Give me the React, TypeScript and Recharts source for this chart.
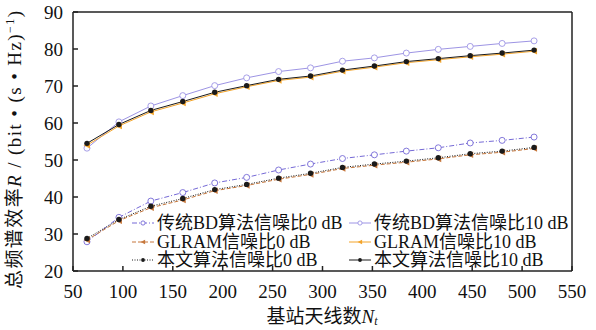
import React from "react";
import { Line, LineChart, ReferenceLine, XAxis, YAxis } from "recharts";

const antennas = [64, 96, 128, 160, 192, 224, 256, 288, 320, 352, 384, 416, 448, 480, 512];

const bd0 = [27.9, 34.5, 38.9, 41.2, 43.8, 45.3, 47.3, 48.9, 50.4, 51.4, 52.4, 53.3, 54.6, 55.3, 56.2];
const bd10 = [53.2, 60.3, 64.6, 67.4, 70.1, 72.2, 73.9, 74.9, 76.7, 77.6, 78.9, 79.9, 80.7, 81.5, 82.2];
const glram0 = [28.4, 33.6, 37.1, 39.2, 41.7, 43.1, 44.8, 46.1, 47.7, 48.6, 49.4, 50.3, 51.4, 52.1, 53.1];
const glram10 = [54.0, 59.2, 63.0, 65.4, 67.9, 69.8, 71.5, 72.4, 74.0, 75.1, 76.3, 77.1, 77.9, 78.6, 79.4];
const prop0 = [28.8, 33.9, 37.5, 39.6, 42.0, 43.4, 45.1, 46.4, 48.0, 48.9, 49.7, 50.6, 51.7, 52.4, 53.4];
const prop10 = [54.5, 59.6, 63.4, 65.8, 68.3, 70.1, 71.8, 72.7, 74.3, 75.4, 76.6, 77.4, 78.2, 78.9, 79.7];

const xTicks = [50, 100, 150, 200, 250, 300, 350, 400, 450, 500, 550];
const yTicks = [20, 30, 40, 50, 60, 70, 80, 90];

const FONT = '"Liberation Serif", "Noto Sans CJK SC", serif';

const data = antennas.map((n, i) => ({
  n,
  bd0: bd0[i],
  bd10: bd10[i],
  glram0: glram0[i],
  glram10: glram10[i],
  prop0: prop0[i],
  prop10: prop10[i],
}));

type Marker = "hollow" | "filled" | "tri";

const series: { key: string; name: string; color: string; dash?: string; marker: Marker }[] = [
  { key: "bd0", name: "传统BD算法信噪比0 dB", color: "#7569d6", dash: "5 2 1 2", marker: "hollow" },
  { key: "bd10", name: "传统BD算法信噪比10 dB", color: "#9d94e4", marker: "hollow" },
  { key: "glram0", name: "GLRAM信噪比0 dB", color: "#c6773c", dash: "4 2", marker: "tri" },
  { key: "glram10", name: "GLRAM信噪比10 dB", color: "#f3a42a", marker: "tri" },
  { key: "prop0", name: "本文算法信噪比0 dB", color: "#1a1a1a", dash: "1 1.5", marker: "filled" },
  { key: "prop10", name: "本文算法信噪比10 dB", color: "#1a1a1a", marker: "filled" },
];

// s = marker scale, legend uses smaller ones
function drawMarker(kind: Marker, color: string, cx: number, cy: number, key?: string, s = 1) {
  if (kind === "hollow") {
    return <circle key={key} cx={cx} cy={cy} r={3 * s} fill="#fff" stroke={color} strokeWidth={0.9} />;
  }
  if (kind === "filled") {
    return <circle key={key} cx={cx} cy={cy} r={2.7 * s} fill={color} stroke="none" />;
  }
  return (
    <polygon
      key={key}
      points={`${cx - 3.5 * s},${cy} ${cx + 3 * s},${cy - 3.3 * s} ${cx + 3 * s},${cy + 3.3 * s}`}
      fill={color}
      stroke="none"
    />
  );
}

function ChartLegend() {
  return (
    <div
      style={{
        position: "absolute",
        left: 132,
        top: 214,
        display: "grid",
        gridTemplateColumns: "217px 230px",
        fontFamily: FONT,
        fontSize: 18,
        lineHeight: "18.5px",
        color: "#111",
      }}
    >
      {series.map((s) => (
        <div key={s.key} style={{ display: "flex", alignItems: "center", whiteSpace: "nowrap" }}>
          <svg width={22} height={12} style={{ marginRight: 3 }}>
            <line x1={0} y1={6} x2={22} y2={6} stroke={s.color} strokeWidth={1} strokeDasharray={s.dash} />
            {drawMarker(s.marker, s.color, 11, 6, undefined, 0.7)}
          </svg>
          <span>{s.name}</span>
        </div>
      ))}
    </div>
  );
}

const tickStyle = { fill: "#111", fontSize: 19, fontFamily: FONT };

export default function App() {
  return (
    <div style={{ position: "absolute", left: 0, top: 0, width: 596, height: 330, background: "#fff" }}>
      <LineChart width={596} height={330} data={data} margin={{ top: 12, right: 24, bottom: 0, left: 0 }}>
        <XAxis
          dataKey="n"
          type="number"
          domain={[50, 550]}
          ticks={xTicks}
          tickSize={-5}
          tickMargin={19}
          height={59}
          stroke="#222"
          strokeWidth={1.5}
          tick={tickStyle}
          interval={0}
        />
        <YAxis
          domain={[20, 90]}
          ticks={yTicks}
          tickSize={-5}
          tickMargin={15}
          width={73}
          stroke="#222"
          strokeWidth={1.5}
          tick={tickStyle}
          interval={0}
        />
        <ReferenceLine y={90} stroke="#222" strokeWidth={1.5} />
        <ReferenceLine x={550} stroke="#222" strokeWidth={1.5} />
        {series.map((s) => (
          <Line
            key={s.key}
            dataKey={s.key}
            name={s.name}
            type="linear"
            stroke={s.color}
            strokeWidth={1}
            strokeDasharray={s.dash}
            isAnimationActive={false}
            dot={(p: any) => drawMarker(s.marker, s.color, p.cx, p.cy, `${s.key}-${p.index}`)}
            activeDot={false}
          />
        ))}
      </LineChart>
      <ChartLegend />
      <svg
        width={596}
        height={330}
        style={{ position: "absolute", left: 0, top: 0, pointerEvents: "none" }}
      >
        <text
          transform="translate(21,150) rotate(-90)"
          textAnchor="middle"
          fontFamily={FONT}
          fontSize={19}
          fill="#111"
          textLength={278}
          lengthAdjust="spacing"
        >
          总频谱效率<tspan fontStyle="italic">R</tspan> / (bit • (s • Hz)
          <tspan fontSize={12} dy={-7}>−1</tspan>
          <tspan dy={7}>)</tspan>
        </text>
        <text x={322} y={323} textAnchor="middle" fontFamily={FONT} fontSize={19} fill="#111">
          基站天线数<tspan fontStyle="italic">N</tspan>
          <tspan fontStyle="italic" fontSize={12} dy={2}>t</tspan>
        </text>
      </svg>
    </div>
  );
}
